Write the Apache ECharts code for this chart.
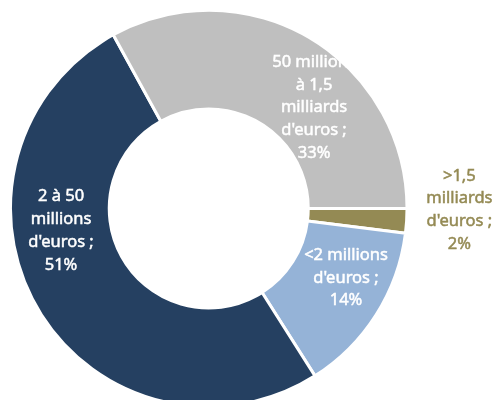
<!DOCTYPE html>
<html>
<head>
<meta charset="utf-8">
<script src="https://cdn.jsdelivr.net/npm/echarts@6/dist/echarts.min.js"></script>
<style>
  html, body { margin: 0; padding: 0; background: #ffffff; }
  #chart { width: 493px; height: 400px; }
</style>
</head>
<body>
<div id="chart"></div>
<script>
// Répartition par taille (en euros), parts en %
const categories = [
  ">1,5\nmilliards\nd'euros",
  "<2 millions\nd'euros",
  "2 à 50\nmillions\nd'euros",
  "50 millions\nà 1,5\nmilliards\nd'euros"
];
const shares = [2, 14, 51, 33];

const sliceColors = ['#948A54', '#95B3D7', '#254061', '#BFBFBF'];
const labelColors = ['#948A54', '#ffffff', '#ffffff', '#ffffff'];
// shift of each label from its default in-ring position
const labelShift = [[99, -8], [9, -12], [-17, -55], [28, 30]];

const chart = echarts.init(document.getElementById('chart'), null, { renderer: 'canvas' });

chart.setOption({
  backgroundColor: '#ffffff',
  animation: false,
  series: [{
    type: 'pie',
    center: [208.75, 208.5],
    radius: [99.5, 198.25],
    startAngle: 0,
    clockwise: true,
    avoidLabelOverlap: false,
    itemStyle: { borderColor: '#ffffff', borderWidth: 3 },
    label: {
      show: true,
      position: 'inside',
      fontFamily: 'Noto Sans',
      fontSize: 16.5,
      lineHeight: 22.8,
      align: 'center',
      verticalAlign: 'middle',
      formatter: p => p.name + ' ;\n' + p.value + '%'
    },
    labelLine: { show: false },
    emphasis: { disabled: true },
    labelLayout: p => ({ dx: labelShift[p.dataIndex][0], dy: labelShift[p.dataIndex][1] }),
    data: categories.map((name, i) => ({
      name: name,
      value: shares[i],
      itemStyle: { color: sliceColors[i] },
      label: {
        color: labelColors[i],
        textBorderColor: labelColors[i],
        textBorderWidth: 0.5
      }
    }))
  }]
});
</script>
</body>
</html>
